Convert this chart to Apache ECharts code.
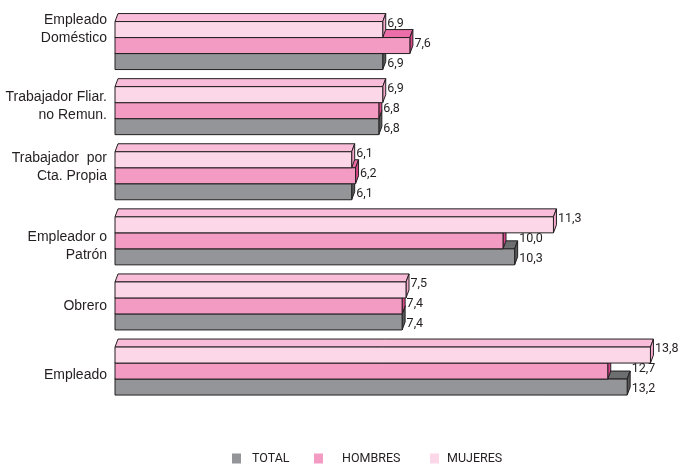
<!DOCTYPE html>
<html>
<head>
<meta charset="utf-8">
<script src="https://cdn.jsdelivr.net/npm/echarts@6/dist/echarts.min.js"></script>
<style>html,body{margin:0;padding:0;background:#fff}#c{width:678px;height:465px}</style>
</head>
<body>
<div id="c"></div>
<script>
// ---- data ----
var categories = ['Empleado\nDoméstico', 'Trabajador Fliar.\nno Remun.', 'Trabajador  por\nCta. Propia', 'Empleador o\nPatrón', 'Obrero', 'Empleado'];
var total   = [6.9, 6.8, 6.1, 10.3, 7.4, 13.2];
var hombres = [7.6, 6.8, 6.2, 10.0, 7.4, 12.7];
var mujeres = [6.9, 6.9, 6.1, 11.3, 7.5, 13.8];
var seriesNames = ['TOTAL', 'HOMBRES', 'MUJERES'];

// ---- layout / style ----
var labelShift = [-16, -5, -9, 5, 0, 4];
var DX = 3, DY = 8;
var LABEL_FONT = "Roboto, 'Liberation Sans', sans-serif";
var CAT_FONT = "'Liberation Sans', Arial, sans-serif";
var styles = {
  TOTAL:   {front: '#939598', top: '#6d6e70', side: '#58595b', pos: 1,  lab: 2},
  HOMBRES: {front: '#f39bc2', top: '#ec6ea8', side: '#d9468a', pos: 0,  lab: -2},
  MUJERES: {front: '#fcd7e8', top: '#f9bdd9', side: '#f4a9cb', pos: -1, lab: -6}
};

function fmt(v){ return v.toFixed(1).replace('.', ','); }

function makeRender(name){
  var st = styles[name];
  return function(params, api){
    var v = api.value(0), ci = api.value(1), lx = api.value(2);
    var p0 = api.coord([0, ci]);
    var p1 = api.coord([v, ci]);
    var pl = api.coord([lx, ci]);
    var band = api.size([0, 1])[1];
    var h = band * 16 / 65.1;
    var yc = p0[1] + st.pos * h;
    var top = yc - h / 2, bot = yc + h / 2;
    var x0 = p0[0], x1 = p1[0];
    var stroke = {stroke: '#231f20', lineWidth: 1, lineJoin: 'round'};
    return {
      type: 'group',
      children: [
        {type: 'polygon', shape: {points: [[x0, top], [x0 + DX, top - DY], [x1 + DX, top - DY], [x1, top]]},
          style: Object.assign({fill: st.top}, stroke)},
        {type: 'polygon', shape: {points: [[x1, top], [x1 + DX, top - DY], [x1 + DX, bot - DY], [x1, bot]]},
          style: Object.assign({fill: st.side}, stroke)},
        {type: 'rect', shape: {x: x0, y: top, width: x1 - x0, height: h},
          style: Object.assign({fill: st.front}, stroke)},
        {type: 'text', x: pl[0] + DX + 1.5, y: yc + st.lab,
          style: {text: fmt(v), fill: '#231f20', font: '12.5px ' + LABEL_FONT, textAlign: 'left', textVerticalAlign: 'middle'}}
      ]
    };
  };
}

function buildData(vals, name){
  return vals.map(function(v, i){
    var lx = v;
    if (name === 'HOMBRES') lx = Math.max(v, total[i]);
    return [v, i, lx];
  });
}

var chart = echarts.init(document.getElementById('c'), null, {renderer: 'canvas'});
var seriesVals = {TOTAL: total, HOMBRES: hombres, MUJERES: mujeres};
var legendLeft = {TOTAL: 232, HOMBRES: 314, MUJERES: 430};
var legendPad = {TOTAL: 6, HOMBRES: 14, MUJERES: 3};

chart.setOption({
  animation: false,
  backgroundColor: '#ffffff',
  grid: {left: 115, top: 13, width: 14 * 38.8, height: 390.6, containLabel: false},
  xAxis: {type: 'value', min: 0, max: 14, show: false},
  yAxis: {
    type: 'category', inverse: true, data: categories,
    axisLine: {show: false}, axisTick: {show: false}, splitLine: {show: false},
    axisLabel: {
      margin: 8, color: '#231f20', fontFamily: CAT_FONT, fontSize: 14, lineHeight: 18,
      formatter: function(value, idx){
        var lines = value.split('\n').map(function(l){ return '{a|' + l + '}'; });
        var s = labelShift[idx];
        if (s < 0) lines.push('{u' + idx + '| }');
        if (s > 0) lines.unshift('{u' + idx + '| }');
        return lines.join('\n');
      },
      rich: (function(){
        var r = {a: {fontSize: 14, lineHeight: 18, color: '#231f20', fontFamily: CAT_FONT}};
        labelShift.forEach(function(s, i){ r['u' + i] = {lineHeight: Math.max(1, Math.abs(s) * 2), fontSize: 1}; });
        return r;
      })()
    }
  },
  legend: seriesNames.map(function(n){
    return {data: [n], left: legendLeft[n], top: 452, padding: 0, icon: 'rect', itemWidth: 9, itemHeight: 10,
      textStyle: {fontSize: 12.5, color: '#231f20', fontFamily: LABEL_FONT, padding: [0, 0, 0, legendPad[n]]},
      selectedMode: false};
  }),
  series: seriesNames.map(function(n){
    return {
      name: n, type: 'custom', clip: false,
      itemStyle: {color: styles[n].front},
      encode: {x: 0, y: 1},
      renderItem: makeRender(n),
      data: buildData(seriesVals[n], n)
    };
  })
});
</script>
</body>
</html>
